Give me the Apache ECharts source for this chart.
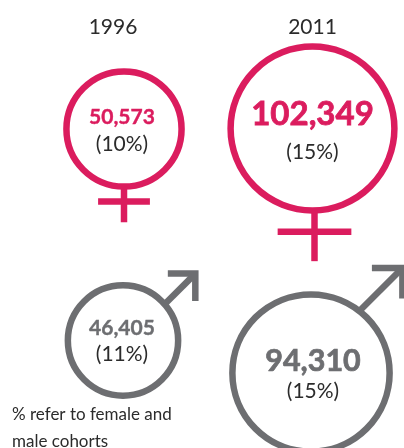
<!DOCTYPE html>
<html><head><meta charset="utf-8">
<style>html,body{margin:0;padding:0;background:#fff}#c{width:404px;height:448px}</style>
<script src="https://cdn.jsdelivr.net/npm/echarts@6/dist/echarts.min.js"></script>
</head><body><div id="c"></div>
<script>
const years = ['1996', '2011'];
const groups = ['Female', 'Male'];
const femaleCounts = [50573, 102349];
const maleCounts = [46405, 94310];
const femaleShares = [10, 15];
const maleShares = [11, 15];
const note = '% refer to female and\nmale cohorts';

const PINK = '#DB1C5E', GREY = '#6D6E71', INK = '#2b2b2b';
const FONT = 'Lato';
const K = 0.256, STROKE = 6.5;      // ring radius per sqrt(count): ring area follows the count

// Layout offsets from the grid band centres, keyed "group|year"
const layout = {
  'Female|1996': {dx: 11, dy: -11, num: -12, pct: 15, nx: -2, numSize: 21, pctSize: 21, heavy: 0.4},
  'Female|2011': {dx: 0,  dy: -11.5, num: -14.5, pct: 24, nx: 0, numSize: 33, pctSize: 21, heavy: 0.8},
  'Male|1996':   {dx: 10, dy: 0.5, num: -12.5, pct: 13.5, nx: -1, numSize: 21, pctSize: 21, heavy: 0.4},
  'Male|2011':   {dx: -1.5, dy: 33, num: -11.5, pct: 18.5, nx: 2, numSize: 30.5, pctSize: 21, heavy: 0.7}
};
const arrows = {
  '1996': {angle: 41, run: 30.7, head: 27.5},
  '2011': {angle: 52, run: 43, head: 30.5}
};

const rows = [];
groups.forEach((g, gi) => {
  const counts = gi === 0 ? femaleCounts : maleCounts;
  const shares = gi === 0 ? femaleShares : maleShares;
  years.forEach((y, yi) => rows.push([y, g, counts[yi], shares[yi]]));
});

function renderItem(params, api) {
  const year = api.value(0), group = api.value(1);
  const yName = years[year] !== undefined ? years[year] : year;
  const gName = groups[group] !== undefined ? groups[group] : group;
  const count = api.value(2), share = api.value(3);
  const L = layout[gName + '|' + yName];
  const p = api.coord([year, group]);
  const cx = p[0] + L.dx, cy = p[1] + L.dy;
  const r = K * Math.sqrt(count);
  const color = gName === 'Female' ? PINK : GREY;
  const line = { stroke: color, lineWidth: STROKE, fill: null, lineCap: 'butt', lineJoin: 'miter' };
  const kids = [{ type: 'circle', shape: { cx, cy, r }, style: { ...line } }];
  if (gName === 'Female') {
    const stem = r * 0.62, barY = r * 1.26, half = r * 0.45;
    const sx = cx + (yName === '2011' ? 2 : 0);
    kids.push({ type: 'line', shape: { x1: sx, y1: cy + r, x2: sx, y2: cy + r + stem }, style: { ...line } });
    kids.push({ type: 'line', shape: { x1: sx - half, y1: cy + barY, x2: sx + half, y2: cy + barY }, style: { ...line } });
  } else {
    const A = arrows[yName];
    const t = A.angle * Math.PI / 180;
    const sx = cx + r * Math.cos(t), sy = cy - r * Math.sin(t);
    const tx = sx + A.run, ty = sy - A.run;
    kids.push({ type: 'line', shape: { x1: sx, y1: sy, x2: tx, y2: ty }, style: { ...line } });
    kids.push({ type: 'polyline', shape: { points: [[tx - A.head, ty], [tx, ty], [tx, ty + A.head]] }, style: { ...line } });
  }
  kids.push({ type: 'text', style: { text: count.toLocaleString('en-US'), x: cx + L.nx, y: cy + L.num, align: 'center', verticalAlign: 'middle',
    fill: color, stroke: color, lineWidth: L.heavy, font: `bold ${L.numSize}px ${FONT}` } });
  kids.push({ type: 'text', style: { text: '(' + share + '%)', x: cx + L.nx, y: cy + L.pct, align: 'center', verticalAlign: 'middle',
    fill: INK, font: `${L.pctSize}px ${FONT}` } });
  return { type: 'group', children: kids };
}

const chart = echarts.init(document.getElementById('c'), null, { renderer: 'canvas' });
chart.setOption({
  animation: false,
  backgroundColor: '#fff',
  title: { text: note, left: 7, top: 396, itemGap: 0,
    textStyle: { fontFamily: FONT, fontSize: 17, fontWeight: 'normal', color: INK, lineHeight: 27 } },
  grid: { left: 13.25, width: 399, top: 40, height: 400, outerBoundsMode: 'none' },
  xAxis: { type: 'category', data: years, position: 'top',
    axisLine: { show: false }, axisTick: { show: false }, splitLine: { show: false },
    axisLabel: { color: INK, fontFamily: FONT, fontSize: 21, margin: 2 } },
  yAxis: { type: 'category', data: groups, inverse: true, show: false },
  series: [{ type: 'custom', coordinateSystem: 'cartesian2d', renderItem, clip: false,
    encode: { x: 0, y: 1 }, data: rows }]
});
</script></body></html>
